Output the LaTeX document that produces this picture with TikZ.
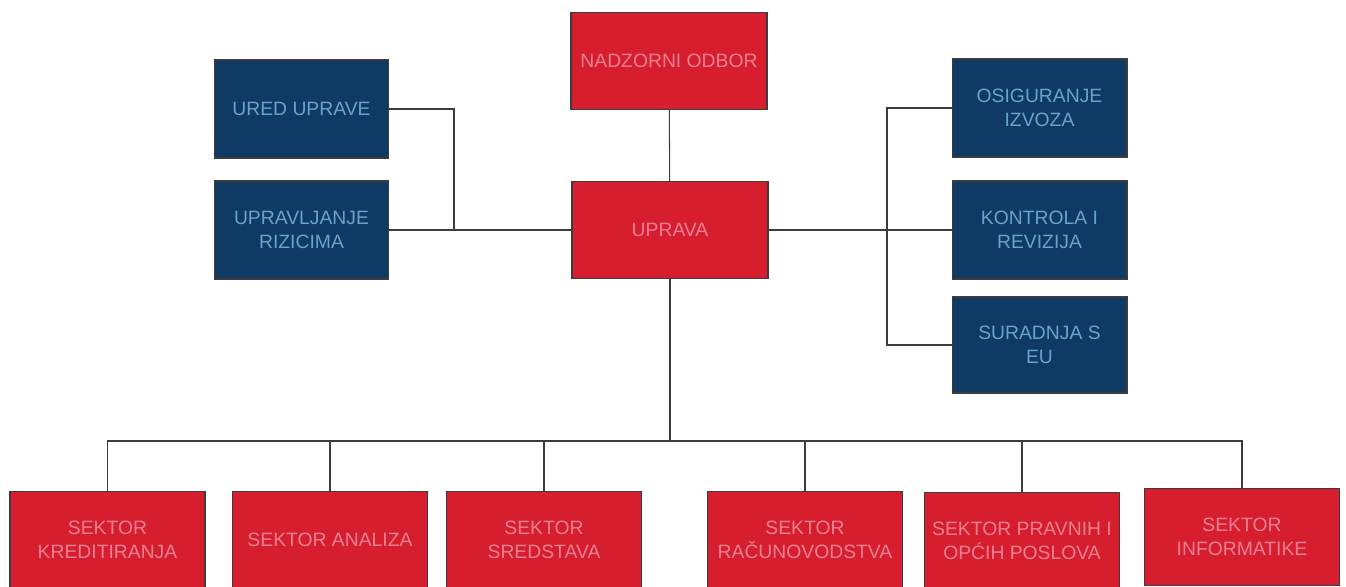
\documentclass[tikz,border=0pt]{standalone}
\usepackage{fontspec}
\setmainfont{Liberation Sans}
\usepackage{tikz}
\usetikzlibrary{positioning}

\definecolor{crvena}{RGB}{214,30,46}
\definecolor{crvenatekst}{RGB}{238,128,146}
\definecolor{plava}{RGB}{14,58,99}
\definecolor{plavatekst}{RGB}{104,162,206}
\definecolor{linija}{RGB}{60,60,60}

\begin{document}
\begin{tikzpicture}
	[
		x = 0.02cm, y = -0.02cm,
		every node/.style = {shape=rectangle, draw=linija, line width=0.6pt, align=center, inner sep=0pt,
			font=\fontsize{11pt}{14pt}\selectfont},
		uprava/.style = {fill=crvena, text=crvenatekst, minimum width=3.92cm, minimum height=1.94cm},
		sluzba/.style = {fill=plava, text=plavatekst, minimum width=3.48cm, minimum height=1.96cm},
		sektor/.style = {fill=crvena, text=crvenatekst, minimum width=3.9cm, minimum height=1.94cm},
		veza/.style = {draw=linija, line width=0.6pt},
	]
  \useasboundingbox (0,0) rectangle (1346,587);

  \node[uprava] (nadzor) at (669,61) {NADZORNI ODBOR};
  \node[uprava] (uprava) at (670,230) {UPRAVA};

  \node[sluzba] (ured) at (301.5,109) {URED UPRAVE};
  \node[sluzba] (rizici) at (301.5,230) {UPRAVLJANJE\\RIZICIMA};

  \node[sluzba, minimum width=3.5cm] (osiguranje) at (1039.5,108) {OSIGURANJE\\IZVOZA};
  \node[sluzba, minimum width=3.5cm] (kontrola) at (1039.5,230) {KONTROLA I\\REVIZIJA};
  \node[sluzba, minimum width=3.5cm, minimum height=1.92cm] (suradnja) at (1039.5,345) {SURADNJA S\\EU};

  \node[sektor] (kreditiranje) at (107.5,540) {SEKTOR\\KREDITIRANJA};
  \node[sektor] (analiza) at (330,540) {SEKTOR ANALIZA};
  \node[sektor] (sredstva) at (544,540) {SEKTOR\\SREDSTAVA};
  \node[sektor] (racunovodstvo) at (805,540) {SEKTOR\\RAČUNOVODSTVA};
  \node[sektor] (pravni) at (1022,541) {SEKTOR PRAVNIH I\\OPĆIH POSLOVA};
  \node[sektor] (informatika) at (1242,537) {SEKTOR\\INFORMATIKE};

  \coordinate (lijevi) at (454,230);
  \coordinate (desni) at (887,230);
  \coordinate (sabirnica) at (670,441);

  \draw[veza] (nadzor) -- (uprava);
  \draw[veza] (ured.east) -| (lijevi);
  \draw[veza] (rizici.east) -- (uprava.west);
  \draw[veza] (uprava.east) -- (kontrola.west);
  \draw[veza] (osiguranje.west) -| (desni) |- (suradnja.west);
  \draw[veza] (uprava.south) -- (sabirnica);
  \foreach \s in {kreditiranje,analiza,sredstva,racunovodstvo,pravni,informatika}
    \draw[veza] (sabirnica) -| (\s.north);

\end{tikzpicture}
\end{document}
